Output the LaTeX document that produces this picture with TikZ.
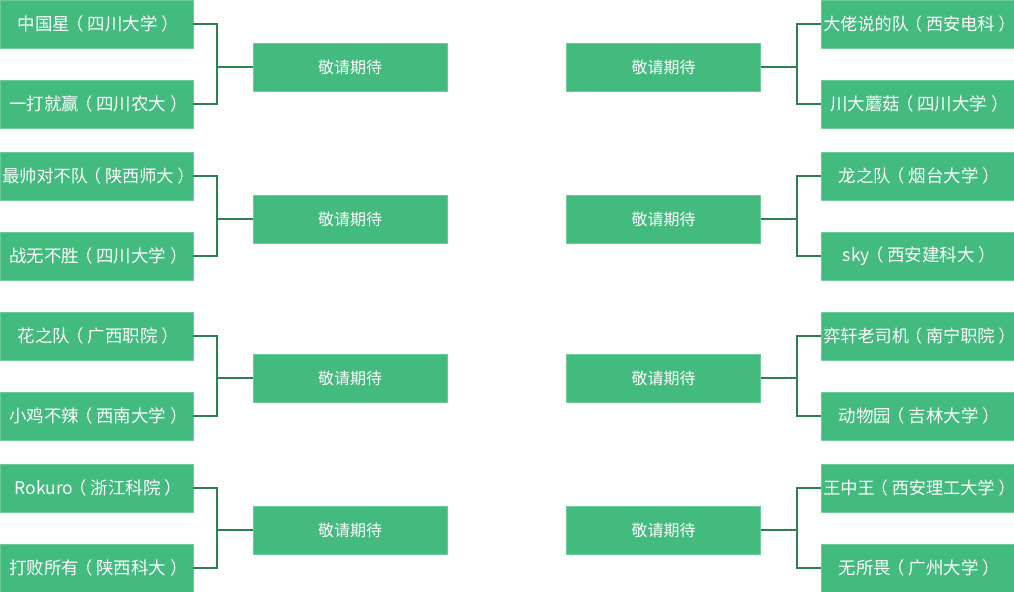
\documentclass[tikz,border=0pt]{standalone}
\usepackage{fontspec}
\setmainfont{Noto Sans CJK SC}
\newcommand{\lpar}{\makebox[1em][l]{\hspace*{-0.22em}（}}
\newcommand{\rpar}{\makebox[1em][l]{\hspace*{0.22em}）}}
\definecolor{boxgreen}{HTML}{43BA7E}
\definecolor{boxedge}{HTML}{6CCB98}
\definecolor{linegreen}{HTML}{2F8050}
\tikzset{
  team/.style={draw=boxedge, line width=0.6pt, fill=boxgreen, text=white, inner sep=0pt,
    minimum width=144.75pt, minimum height=36pt, font=\fontsize{13.1pt}{15pt}\selectfont},
  teamlong/.style={team, font=\fontsize{12.85pt}{15pt}\selectfont},
  wait/.style={draw=boxedge, line width=0.6pt, fill=boxgreen, text=white, inner sep=0pt,
    minimum width=145.5pt, minimum height=36pt, font=\fontsize{12pt}{14pt}\selectfont},
  conn/.style={draw=linegreen, line width=1.3pt}
}
\begin{document}
\begin{tikzpicture}[x=0.75pt,y=-0.75pt]
\useasboundingbox (0,0) rectangle (1014,592);
% left teams
\node[team] (l1) at (96.5,24) {中国星\lpar 四川大学\rpar};
\node[team] (l2) at (96.5,104) {一打就赢\lpar 四川农大\rpar};
\node[teamlong] (l3) at (96.5,176) {最帅对不队\lpar 陕西师大\rpar};
\node[team] (l4) at (96.5,256) {战无不胜\lpar 四川大学\rpar};
\node[team] (l5) at (96.5,336) {花之队\lpar 广西职院\rpar};
\node[team] (l6) at (96.5,416) {小鸡不辣\lpar 西南大学\rpar};
\node[team] (l7) at (96.5,488) {Rokuro\lpar 浙江科院\rpar};
\node[team] (l8) at (96.5,568) {打败所有\lpar 陕西科大\rpar};
% left waiting
\node[wait] (lm1) at (350,67) {敬请期待};
\node[wait] (lm2) at (350,219) {敬请期待};
\node[wait] (lm3) at (350,378) {敬请期待};
\node[wait] (lm4) at (350,530) {敬请期待};
% right teams
\node[teamlong] (r1) at (917.5,24) {大佬说的队\lpar 西安电科\rpar};
\node[team] (r2) at (917.5,104) {川大蘑菇\lpar 四川大学\rpar};
\node[team] (r3) at (917.5,176) {龙之队\lpar 烟台大学\rpar};
\node[team] (r4) at (917.5,256) {sky\lpar 西安建科大\rpar};
\node[teamlong] (r5) at (917.5,336) {弈轩老司机\lpar 南宁职院\rpar};
\node[team] (r6) at (917.5,416) {动物园\lpar 吉林大学\rpar};
\node[teamlong] (r7) at (917.5,488) {王中王\lpar 西安理工大学\rpar};
\node[team] (r8) at (917.5,568) {无所畏\lpar 广州大学\rpar};
% right waiting
\node[wait] (rm1) at (663.5,67) {敬请期待};
\node[wait] (rm2) at (663.5,219) {敬请期待};
\node[wait] (rm3) at (663.5,378) {敬请期待};
\node[wait] (rm4) at (663.5,530) {敬请期待};
% junctions
\coordinate (lj1) at (217,67);
\coordinate (lj2) at (217,219);
\coordinate (lj3) at (217,378);
\coordinate (lj4) at (217,530);
\coordinate (rj1) at (797,67);
\coordinate (rj2) at (797,219);
\coordinate (rj3) at (797,378);
\coordinate (rj4) at (797,530);
% connectors left
\draw[conn] (l1.east) -| (lj1) (l2.east) -| (lj1) (lj1) -- (lm1.west);
\draw[conn] (l3.east) -| (lj2) (l4.east) -| (lj2) (lj2) -- (lm2.west);
\draw[conn] (l5.east) -| (lj3) (l6.east) -| (lj3) (lj3) -- (lm3.west);
\draw[conn] (l7.east) -| (lj4) (l8.east) -| (lj4) (lj4) -- (lm4.west);
% connectors right
\draw[conn] (r1.west) -| (rj1) (r2.west) -| (rj1) (rj1) -- (rm1.east);
\draw[conn] (r3.west) -| (rj2) (r4.west) -| (rj2) (rj2) -- (rm2.east);
\draw[conn] (r5.west) -| (rj3) (r6.west) -| (rj3) (rj3) -- (rm3.east);
\draw[conn] (r7.west) -| (rj4) (r8.west) -| (rj4) (rj4) -- (rm4.east);
\end{tikzpicture}
\end{document}
